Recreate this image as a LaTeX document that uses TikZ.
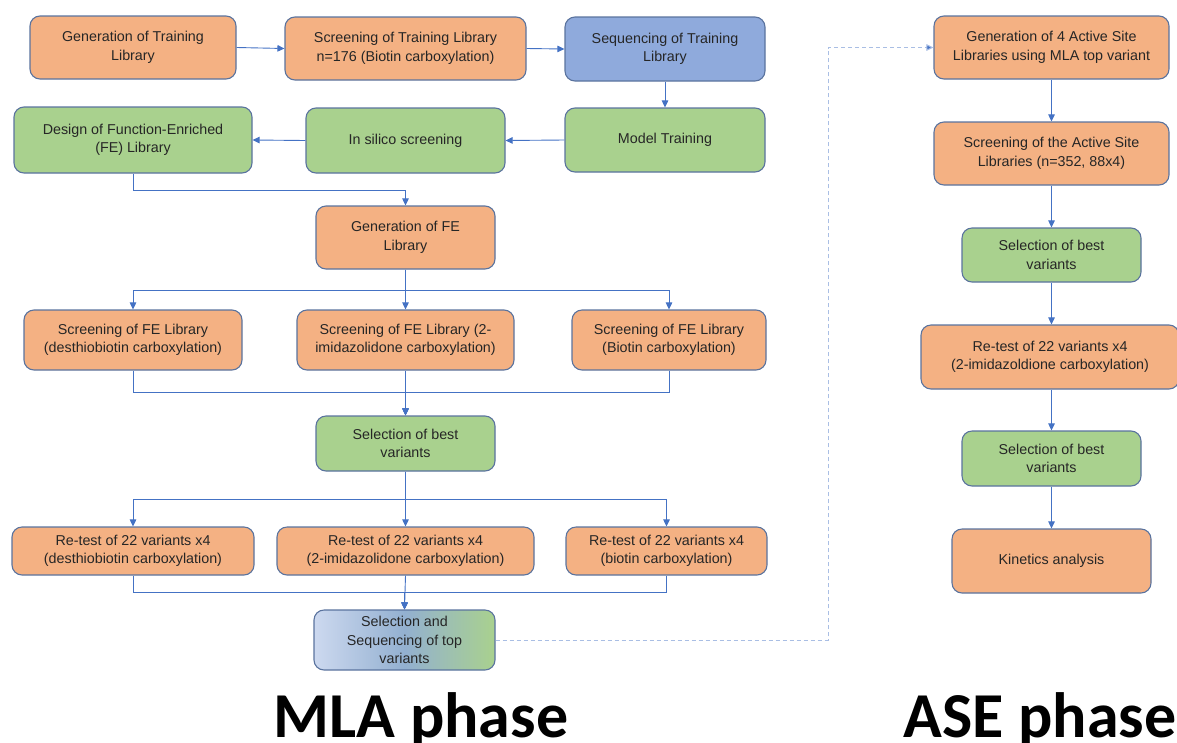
\documentclass[tikz,border=0pt]{standalone}
\usepackage{fontspec}
\setmainfont{Liberation Sans}
\newfontfamily\titlefont{Carlito}
\usetikzlibrary{arrows.meta,positioning}
\definecolor{orangefill}{HTML}{F4B183}
\definecolor{greenfill}{HTML}{A9D18E}
\definecolor{bluefill}{HTML}{8FAADC}
\definecolor{boxline}{HTML}{5A739E}
\definecolor{connline}{HTML}{4472C4}
\definecolor{dashline}{HTML}{A9BEE4}
\definecolor{txt}{HTML}{262626}
\tikzset{
  box/.style={draw=boxline, line width=1.1pt, rounded corners=10pt, align=center,
    font=\fontsize{14.3}{18.5}\selectfont, text=txt, inner sep=0pt},
  obox/.style={box, fill=orangefill},
  gbox/.style={box, fill=greenfill},
  bbox/.style={box, fill=bluefill},
  conn/.style={draw=connline, line width=0.9pt, -{Triangle[length=7pt,width=6.5pt]}},
  dashconn/.style={draw=dashline, line width=1pt, dash pattern=on 4pt off 3pt, -{Triangle[length=7pt,width=6.5pt,fill=connline]}},
  phase/.style={font=\titlefont\bfseries\fontsize{64}{68}\selectfont, text=black, anchor=base, inner sep=0pt}
}
\begin{document}
\begin{tikzpicture}[x=1pt,y=-1pt]
\useasboundingbox (0,0) rectangle (1177,742);
% MLA column nodes
\node[obox, minimum width=206pt, minimum height=63pt] (A1) at (133,47.5) {Generation of Training\\Library};
\node[obox, minimum width=241pt, minimum height=63pt] (A2) at (405.5,48.5) {Screening of Training Library\\n=176 (Biotin carboxylation)};
\node[bbox, minimum width=200pt, minimum height=64pt] (A3) at (665,49) {Sequencing of Training\\Library};
\node[gbox, minimum width=238pt, minimum height=66pt] (B1) at (133,140) {Design of Function-Enriched\\(FE) Library};
\node[gbox, minimum width=199pt, minimum height=65pt] (B2) at (405.5,140.5) {In silico screening};
\node[gbox, minimum width=200pt, minimum height=64pt] (B3) at (665,140) {Model Training};
\node[obox, minimum width=179pt, minimum height=63pt] (C) at (405.5,237.5) {Generation of FE\\Library};
\node[obox, minimum width=218pt, minimum height=60pt] (D1) at (133,340) {Screening of FE Library\\(desthiobiotin carboxylation)};
\node[obox, minimum width=217pt, minimum height=60pt] (D2) at (405.5,340) {Screening of FE Library (2-\\imidazolidone carboxylation)};
\node[obox, minimum width=194pt, minimum height=60pt] (D3) at (669,340) {Screening of FE Library\\(Biotin carboxylation)};
\node[gbox, minimum width=179pt, minimum height=55pt] (E) at (405.5,443.5) {Selection of best\\variants};
\node[obox, minimum width=242pt, minimum height=48pt] (F1) at (133,551) {Re-test of 22 variants x4\\(desthiobiotin carboxylation)};
\node[obox, minimum width=257pt, minimum height=48pt] (F2) at (405.5,551) {Re-test of 22 variants x4\\(2-imidazolidone carboxylation)};
\node[obox, minimum width=201pt, minimum height=48pt] (F3) at (666.5,551) {Re-test of 22 variants x4\\(biotin carboxylation)};
\node[box, left color=bluefill!45, right color=greenfill, middle color=bluefill!85!greenfill, minimum width=181pt, minimum height=60pt] (G) at (404.5,640) {Selection and\\Sequencing of top\\variants};
% ASE column nodes
\node[obox, minimum width=235pt, minimum height=63pt] (H1) at (1051.5,47.5) {Generation of 4 Active Site\\Libraries using MLA top variant};
\node[obox, minimum width=235pt, minimum height=63pt] (H2) at (1051.5,153.5) {Screening of the Active Site\\Libraries (n=352, 88x4)};
\node[gbox, minimum width=179pt, minimum height=54pt] (H3) at (1051.5,255) {Selection of best\\variants};
\node[obox, minimum width=258pt, minimum height=64pt] (H4) at (1050,357) {Re-test of 22 variants x4\\(2-imidazoldione carboxylation)};
\node[gbox, minimum width=179pt, minimum height=55pt] (H5) at (1051.5,458.5) {Selection of best\\variants};
\node[obox, minimum width=199pt, minimum height=64pt] (H6) at (1051.5,561) {Kinetics analysis};
% titles
\node[phase] (T1) at (421,737) {MLA phase};
\node[phase] (T2) at (1040,737) {ASE phase};
% connectors MLA
\draw[conn] (A1.east) -- (A2.west);
\draw[conn] (A2.east) -- (A3.west);
\draw[conn] (A3.south) -- (B3.north);
\draw[conn] (B3.west) -- (B2.east);
\draw[conn] (B2.west) -- (B1.east);
\draw[conn] (B1.south) -- ++(0,17) -| (C.north);
\draw[conn] (C.south) -- ++(0,21) -| (D1.north);
\draw[conn] (C.south) -- (D2.north);
\draw[conn] (C.south) -- ++(0,21) -| (D3.north);
\draw[conn] (D1.south) -- ++(0,22) -| (E.north);
\draw[conn] (D2.south) -- (E.north);
\draw[conn] (D3.south) -- ++(0,22) -| (E.north);
\draw[conn] (E.south) -- ++(0,28) -| (F1.north);
\draw[conn] (E.south) -- (F2.north);
\draw[conn] (E.south) -- ++(0,28) -| (F3.north);
\draw[conn] (F1.south) -- ++(0,17) -| (G.north);
\draw[conn] (F2.south) -- (G.north);
\draw[conn] (F3.south) -- ++(0,17) -| (G.north);
% dashed link
\coordinate (turn) at (828,640);
\draw[dashconn] (G.east) -- (turn) |- (H1.west);
% connectors ASE
\draw[conn] (H1.south) -- (H2.north);
\draw[conn] (H2.south) -- (H3.north);
\draw[conn] (H3.south) -- (H4.north -| H3.south);
\draw[conn] (H4.south -| H3.south) -- (H5.north);
\draw[conn] (H5.south) -- (H6.north);
\end{tikzpicture}
\end{document}
